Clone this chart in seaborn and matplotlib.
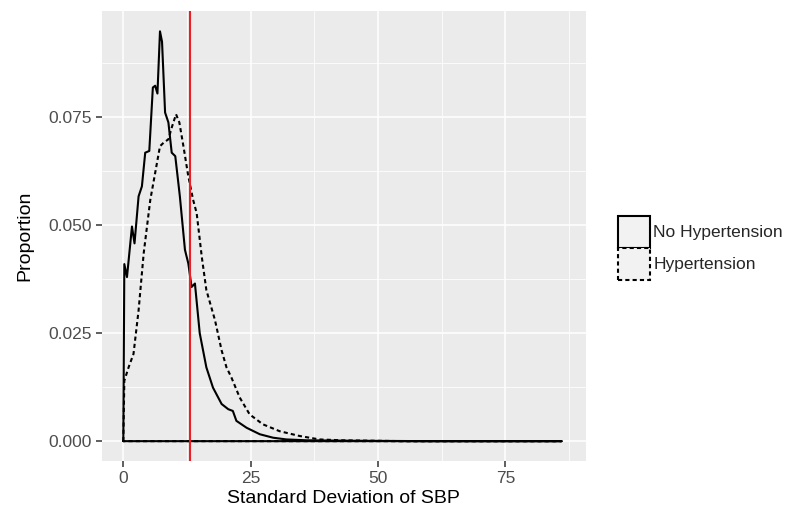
import numpy as np
import pandas as pd
import seaborn as sns
import matplotlib.pyplot as plt
from matplotlib.patches import Patch

# Curvas de proporcion (contorno cerrado sobre la base)
sd_no = [0.0, 0.2, 0.72, 1.7, 2.2, 3.0, 3.65, 4.3, 5.1, 5.8, 6.25, 6.7, 7.2, 7.6,
         8.2, 8.85, 9.5, 10.2, 11.1, 12.1, 12.75, 13.4, 14.06, 15.0, 16.3, 17.6,
         19.3, 20.6, 21.5, 22.2, 24.2, 26.8, 29.4, 32.0, 36.0, 45.0, 60.0, 86.0, 0.0]
prop_no = [0.0, 0.041, 0.038, 0.0497, 0.0458, 0.0567, 0.059, 0.0668, 0.0672, 0.0819,
           0.0823, 0.0805, 0.0949, 0.0925, 0.0761, 0.0738, 0.0668, 0.066, 0.0567,
           0.0443, 0.0412, 0.0357, 0.0365, 0.025, 0.0171, 0.0124, 0.0086, 0.0074,
           0.0070, 0.0047, 0.0031, 0.0016, 0.0008, 0.0004, 0.0002, 0.0001, 0.0,
           0.0, 0.0]

sd_hyp = [0.0, 0.2, 1.04, 2.0, 3.0, 4.0, 5.3, 6.25, 7.2, 7.9, 8.85, 9.5, 10.35,
          11.0, 11.8, 12.75, 13.7, 14.4, 15.4, 16.3, 18.0, 19.3, 20.25, 21.2,
          22.85, 24.8, 27.4, 30.7, 34.6, 38.5, 42.9, 55.0, 86.0, 0.0]
prop_hyp = [0.0, 0.014, 0.0171, 0.0202, 0.0303, 0.0435, 0.0559, 0.0621, 0.0683,
            0.0691, 0.0699, 0.0726, 0.0757, 0.0738, 0.0683, 0.0614, 0.0559, 0.0528,
            0.0427, 0.0350, 0.028, 0.021, 0.0171, 0.0148, 0.0101, 0.0062, 0.0039,
            0.0023, 0.0012, 0.0004, 0.0002, 0.0, 0.0, 0.0]

corte = 13.0
grupos = ["No Hypertension", "Hypertension"]

df = pd.concat([
    pd.DataFrame({"sd": sd_no, "prop": prop_no, "grupo": grupos[0]}),
    pd.DataFrame({"sd": sd_hyp, "prop": prop_hyp, "grupo": grupos[1]}),
])

sns.set_theme(style="darkgrid", rc={
    "axes.facecolor": "#EBEBEB",
    "grid.color": "white",
    "axes.edgecolor": "#EBEBEB",
})
plt.rcParams["font.family"] = ["Liberation Sans", "DejaVu Sans"]

fig = plt.figure(figsize=(7.86, 5.11), dpi=100)
ax = fig.add_axes([0.1294, 0.0978, 0.6158, 0.8806])

sns.lineplot(data=df, x="sd", y="prop", style="grupo", sort=False, units="grupo",
             estimator=None, color="black", linewidth=1.5,
             dashes={grupos[0]: "", grupos[1]: (2, 1.5)}, legend=False, ax=ax)
ax.axvline(corte, color="#EE1C25", linewidth=1.5)

ax.set_xlim(-4.24, 90.77)
ax.set_ylim(-0.0046, 0.0996)
ax.set_xticks([0, 25, 50, 75])
ax.set_yticks([0, 0.025, 0.05, 0.075])
ax.set_yticklabels(["0.000", "0.025", "0.050", "0.075"])
ax.set_xticks([12.5, 37.5, 62.5, 87.5], minor=True)
ax.set_yticks([0.0125, 0.0375, 0.0625, 0.0875], minor=True)
ax.grid(which="major", color="white", linewidth=1.1)
ax.grid(which="minor", color="white", linewidth=0.55)
ax.tick_params(which="major", length=4, width=1.1, color="#333333",
               labelcolor="#4D4D4D", labelsize=12.5, bottom=True, left=True, pad=3)
ax.tick_params(which="minor", length=0)
for s in ax.spines.values():
    s.set_visible(False)

ax.set_xlabel("Standard Deviation of SBP", fontsize=14, color="black", labelpad=3)
ax.set_ylabel("Proportion", fontsize=14, color="black", labelpad=11)

handles = [
    Patch(facecolor="#F2F2F2", edgecolor="black", linestyle="-", linewidth=1.5,
          label=grupos[0]),
    Patch(facecolor="#F2F2F2", edgecolor="black", linestyle=(0, (2, 1.5)),
          linewidth=1.5, label=grupos[1]),
]
fig.legend(handles=handles, loc="center left", bbox_to_anchor=(0.786, 0.5147),
           frameon=False, fontsize=12.5, handlelength=1.85, handleheight=2.45,
           handletextpad=0.2, labelspacing=0.0, borderaxespad=0, borderpad=0)

fig.savefig("out.png", dpi=100)
